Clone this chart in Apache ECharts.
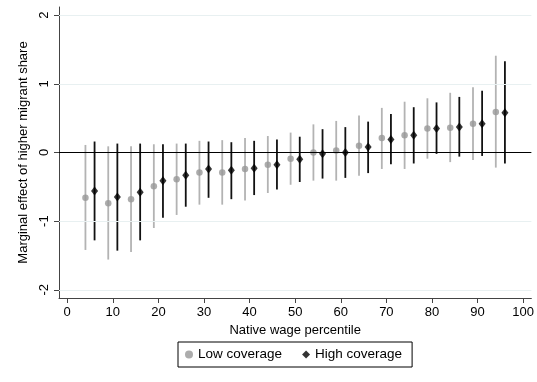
<!DOCTYPE html>
<html>
<head>
<meta charset="utf-8">
<script src="https://cdn.jsdelivr.net/npm/echarts@6/dist/echarts.min.js"></script>
<style>
  html, body { margin: 0; padding: 0; background: #fff; }
  #chart { width: 537px; height: 382px; }
</style>
</head>
<body>
<div id="chart"></div>
<script>
// Native wage percentiles for each coverage group
const lowPct  = [4, 9, 14, 19, 24, 29, 34, 39, 44, 49, 54, 59, 64, 69, 74, 79, 84, 89, 94];
const highPct = [6, 11, 16, 21, 26, 31, 36, 41, 46, 51, 56, 61, 66, 71, 76, 81, 86, 91, 96];

// Point estimates and 95% confidence bounds, low coverage
const lowEst = [-0.66, -0.74, -0.68, -0.49, -0.39, -0.29, -0.29, -0.24, -0.18, -0.09, 0.00, 0.03, 0.10, 0.21, 0.25, 0.35, 0.36, 0.42, 0.59];
const lowLo  = [-1.42, -1.56, -1.45, -1.10, -0.91, -0.76, -0.76, -0.70, -0.59, -0.47, -0.41, -0.41, -0.34, -0.24, -0.24, -0.09, -0.14, -0.11, -0.22];
const lowHi  = [0.11, 0.09, 0.09, 0.12, 0.13, 0.17, 0.18, 0.21, 0.24, 0.29, 0.41, 0.46, 0.54, 0.65, 0.74, 0.79, 0.87, 0.95, 1.41];

// Point estimates and 95% confidence bounds, high coverage
const highEst = [-0.56, -0.65, -0.58, -0.41, -0.33, -0.24, -0.26, -0.23, -0.18, -0.10, -0.02, 0.00, 0.08, 0.19, 0.25, 0.35, 0.37, 0.42, 0.58];
const highLo  = [-1.28, -1.43, -1.28, -0.95, -0.79, -0.66, -0.68, -0.62, -0.54, -0.43, -0.38, -0.37, -0.30, -0.17, -0.16, -0.02, -0.06, -0.05, -0.16];
const highHi  = [0.16, 0.13, 0.13, 0.12, 0.13, 0.16, 0.15, 0.17, 0.19, 0.23, 0.34, 0.37, 0.45, 0.56, 0.66, 0.73, 0.81, 0.90, 1.33];

// Axis ticks
const xTicks = [0, 10, 20, 30, 40, 50, 60, 70, 80, 90, 100];
const yTicks = [-2, -1, 0, 1, 2];
const yGrid  = [-2, -1, 1, 2];

const FONT = '"Liberation Sans", Arial, Helvetica, sans-serif';

function zip3(xs, a, b) { return xs.map((x, i) => [x, a[i], b[i]]); }
function zip2(xs, a) { return xs.map((x, i) => [x, a[i]]); }

function barRenderer(color) {
  return function (params, api) {
    const p1 = api.coord([api.value(0), api.value(1)]);
    const p2 = api.coord([api.value(0), api.value(2)]);
    return {
      type: 'line',
      shape: { x1: p1[0], y1: p1[1], x2: p2[0], y2: p2[1] },
      style: { stroke: color, lineWidth: 1.8 }
    };
  };
}

const chart = echarts.init(document.getElementById('chart'), null, { renderer: 'canvas' });

chart.setOption({
  backgroundColor: '#ffffff',
  animation: false,
  textStyle: { fontFamily: FONT },
  grid: { left: 59, right: 5, top: 7, bottom: 84 },
  legend: {
    data: ['Low coverage', 'High coverage'],
    left: 178,
    top: 342,
    width: 234,
    padding: [5, 10, 5, 7],
    itemGap: 20,
    itemWidth: 8,
    itemHeight: 8,
    borderColor: '#000',
    borderWidth: 1,
    backgroundColor: '#fff',
    textStyle: { fontFamily: FONT, fontSize: 13.5, color: '#000', lineHeight: 15 }
  },
  xAxis: {
    type: 'value',
    min: -1.8,
    max: 101.8,
    name: 'Native wage percentile',
    nameLocation: 'middle',
    nameGap: 22,
    nameTextStyle: { fontFamily: FONT, fontSize: 13, color: '#000' },
    axisLine: { show: true, onZero: false, lineStyle: { color: '#444', width: 1 } },
    axisTick: { show: true, length: 5, customValues: xTicks, lineStyle: { color: '#444' } },
    axisLabel: { customValues: xTicks, margin: 8, fontFamily: FONT, fontSize: 13, color: '#000' },
    splitLine: { show: false }
  },
  yAxis: {
    type: 'value',
    min: -2.12,
    max: 2.12,
    name: 'Marginal effect of higher migrant share',
    nameLocation: 'middle',
    nameGap: 19,
    nameTextStyle: { fontFamily: FONT, fontSize: 13, color: '#000' },
    axisLine: { show: true, onZero: false, lineStyle: { color: '#444', width: 1 } },
    axisTick: { show: true, length: 5, customValues: yTicks, lineStyle: { color: '#444' } },
    axisLabel: { customValues: yTicks, rotate: 90, margin: 8, fontFamily: FONT, fontSize: 13, color: '#000' },
    splitLine: { show: false }
  },
  series: [
    {
      type: 'custom',
      name: 'lowBars',
      z: 2,
      renderItem: barRenderer('#b3b3b3'),
      encode: { x: 0, y: [1, 2] },
      data: zip3(lowPct, lowLo, lowHi),
      markLine: {
        silent: true,
        symbol: 'none',
        label: { show: false },
        lineStyle: { color: '#e8f0f1', width: 1, type: 'solid' },
        data: yGrid.map(v => ({ yAxis: v }))
      }
    },
    {
      type: 'custom',
      name: 'highBars',
      z: 3,
      renderItem: barRenderer('#111111'),
      encode: { x: 0, y: [1, 2] },
      data: zip3(highPct, highLo, highHi),
      markLine: {
        silent: true,
        symbol: 'none',
        label: { show: false },
        lineStyle: { color: '#000', width: 1.2, type: 'solid' },
        data: [{ yAxis: 0 }]
      }
    },
    {
      type: 'scatter',
      name: 'Low coverage',
      z: 4,
      symbol: 'circle',
      symbolSize: 6.5,
      itemStyle: { color: '#979797' },
      data: zip2(lowPct, lowEst)
    },
    {
      type: 'scatter',
      name: 'High coverage',
      z: 5,
      symbol: 'diamond',
      symbolSize: [7, 9],
      itemStyle: { color: '#000' },
      data: zip2(highPct, highEst)
    }
  ]
});
</script>
</body>
</html>
